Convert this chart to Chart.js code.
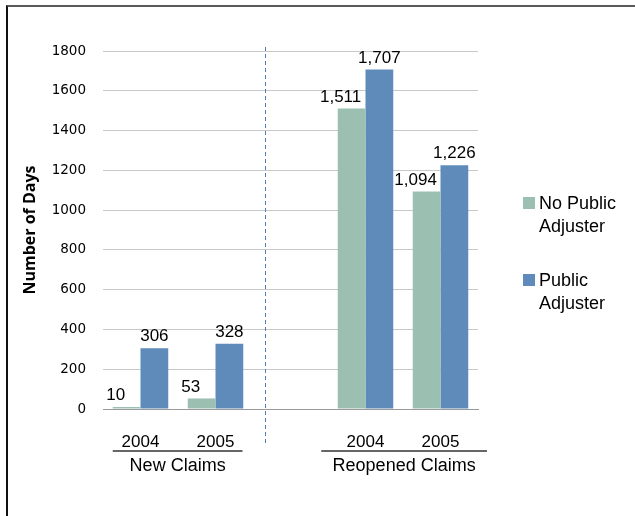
<!DOCTYPE html>
<html>
<head>
<meta charset="utf-8">
<title>Number of Days - Claims</title>
<script src="https://cdn.jsdelivr.net/npm/chart.js@4.4.1/dist/chart.umd.min.js"></script>
<style>
  html, body { margin: 0; padding: 0; background: #fff; }
  #wrap { position: relative; width: 635px; height: 516px; overflow: hidden; }
  #frame {
    position: absolute; left: 6px; top: 5px; width: 640px; height: 520px;
    border-top: 2px solid #5a5a5a; border-left: 2px solid #111;
  }
  canvas { position: absolute; left: 0; top: 0; }
  .leg { position: absolute; left: 523px; font: 18px "Liberation Sans", Arial, sans-serif; color: #000; }
  .leg .box { position: absolute; left: 0; width: 12px; height: 12px; }
  .leg .txt { position: absolute; left: 16px; top: -5px; line-height: 23px; white-space: nowrap; }
</style>
</head>
<body>
<div id="wrap">
  <div id="frame"></div>
  <canvas id="chart" width="635" height="516"></canvas>
  <div id="legend"></div>
</div>
<script>
// Dados
const years = ['2004', '2005', '', '2004', '2005'];
const noPublicAdjuster = [10, 53, null, 1511, 1094];
const publicAdjuster = [306, 328, null, 1707, 1226];
const seriesNames = [['No Public', 'Adjuster'], ['Public', 'Adjuster']];
const groupNames = ['New Claims', 'Reopened Claims'];
const yTicks = [0, 200, 400, 600, 800, 1000, 1200, 1400, 1600, 1800];

const colors = ['#9bbfb0', '#5f8bba'];
const sans = '"Liberation Sans", Arial, sans-serif';

// rótulos de valor em cima das barras
const valueLabels = {
  id: 'valueLabels',
  afterDatasetsDraw(chart) {
    const ctx = chart.ctx;
    ctx.save();
    ctx.font = '17px ' + sans;
    ctx.fillStyle = '#000';
    ctx.textAlign = 'center';
    ctx.textBaseline = 'bottom';
    chart.data.datasets.forEach((ds, i) => {
      const meta = chart.getDatasetMeta(i);
      const shift = i === 0 ? -11 : 0;
      meta.data.forEach((bar, j) => {
        const v = ds.data[j];
        if (v == null) return;
        ctx.fillText(v.toLocaleString('en-US'), bar.x + shift, bar.y - 3);
      });
    });
    ctx.restore();
  }
};

// linha tracejada separando os grupos + nomes dos grupos
const groupDecor = {
  id: 'groupDecor',
  afterDraw(chart, args, opts) {
    const ctx = chart.ctx;
    const x = chart.scales.x;
    const y = chart.scales.y;
    const bottom = chart.chartArea.bottom;
    ctx.save();
    // separador
    const sx = Math.round(x.getPixelForValue(opts.separator)) + 0.5;
    ctx.strokeStyle = '#4a7ebb';
    ctx.lineWidth = 1;
    ctx.setLineDash([4, 3]);
    ctx.beginPath();
    ctx.moveTo(sx, y.getPixelForValue(y.max) - 4);
    ctx.lineTo(sx, bottom + 34);
    ctx.stroke();
    ctx.setLineDash([]);
    // grupos
    ctx.strokeStyle = '#333';
    ctx.lineWidth = 1.5;
    ctx.fillStyle = '#000';
    ctx.font = '18px ' + sans;
    ctx.textAlign = 'center';
    ctx.textBaseline = 'middle';
    opts.spans.forEach((sp, i) => {
      const x0 = x.getPixelForValue(sp[0]);
      const x1 = x.getPixelForValue(sp[1]);
      ctx.beginPath();
      ctx.moveTo(x0, bottom + 42);
      ctx.lineTo(x1, bottom + 42);
      ctx.stroke();
      ctx.fillText(groupNames[i], (x0 + x1) / 2, bottom + 57);
    });
    ctx.restore();
  }
};

new Chart(document.getElementById('chart').getContext('2d'), {
  type: 'bar',
  data: {
    labels: years,
    datasets: [
      { label: seriesNames[0].join(' '), data: noPublicAdjuster, backgroundColor: colors[0] },
      { label: seriesNames[1].join(' '), data: publicAdjuster, backgroundColor: colors[1] }
    ]
  },
  options: {
    responsive: false,
    animation: false,
    categoryPercentage: 0.74,
    barPercentage: 1.0,
    layout: { padding: { top: 51, right: 157, left: 0, bottom: 0 } },
    plugins: {
      legend: { display: false },
      tooltip: { enabled: false },
      groupDecor: { separator: 1.66, spans: [[-0.37, 1.36], [2.41, 4.62]] }
    },
    scales: {
      x: {
        grid: { display: false },
        border: { color: '#9a9a9a', width: 1 },
        ticks: { color: '#000', font: { family: sans, size: 17 }, padding: 15, maxRotation: 0 },
        afterFit(s) { s.height = 107; }
      },
      y: {
        min: 0,
        max: 1800,
        afterBuildTicks(s) { s.ticks = yTicks.map(v => ({ value: v })); },
        grid: { color: '#c8c8c8', drawTicks: false },
        border: { display: false },
        ticks: {
          color: '#000',
          font: { family: '"DejaVu Sans", Verdana, sans-serif', size: 13.5 },
          padding: 17,
          callback: v => String(v)
        },
        title: {
          display: true,
          text: 'Number of Days',
          color: '#000',
          font: { family: '"Open Sans", Arial, sans-serif', size: 16, weight: 'bold' },
          padding: { top: 21, bottom: 0 }
        },
        afterFit(s) { s.width = 103; }
      }
    }
  },
  plugins: [valueLabels, groupDecor]
});

// legenda à direita (duas linhas por item)
const legend = document.getElementById('legend');
const legendTops = [197, 274];
legend.innerHTML = seriesNames.map((name, i) => `
  <div class="leg" style="top:${legendTops[i]}px">
    <div class="box" style="background:${colors[i]}"></div>
    <div class="txt">${name.join('<br>')}</div>
  </div>`).join('');
</script>
</body>
</html>
